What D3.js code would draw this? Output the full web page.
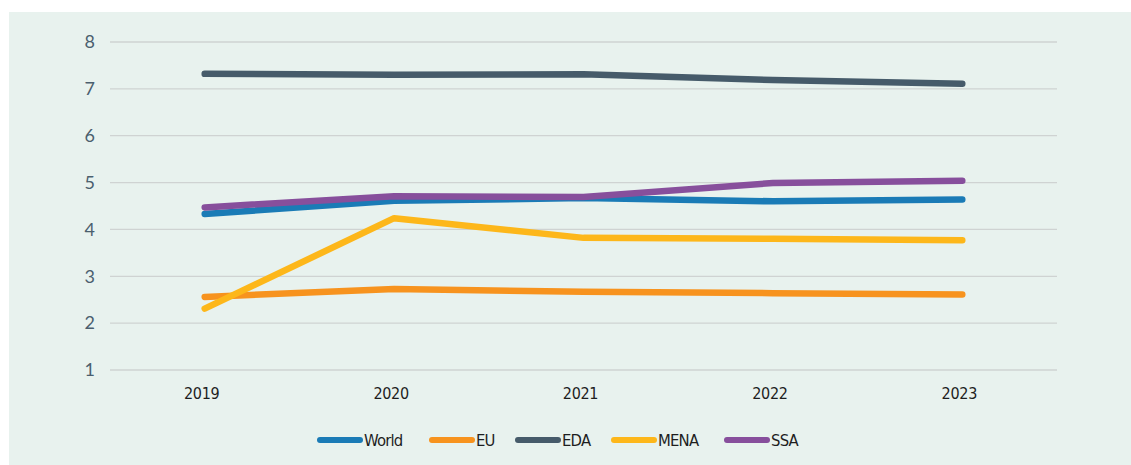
<!DOCTYPE html>
<html>
<head>
<meta charset="utf-8">
<script src="https://cdn.jsdelivr.net/npm/d3@7"></script>
<style>
  html, body { margin: 0; padding: 0; background: #ffffff; }
  svg { display: block; }
</style>
</head>
<body>
<svg id="chart" width="1131" height="465"></svg>
<script>
// Years along the x axis
const years = ["2019", "2020", "2021", "2022", "2023"];
// Y tick values
const yTicks = [1, 2, 3, 4, 5, 6, 7, 8];
// Series names
const seriesNames = ["World", "EU", "EDA", "MENA", "SSA"];
// Series values per year
const worldValues = [4.33, 4.61, 4.67, 4.60, 4.64];
const euValues    = [2.56, 2.73, 2.67, 2.64, 2.61];
const edaValues   = [7.32, 7.30, 7.31, 7.19, 7.11];
const menaValues  = [2.31, 4.24, 3.82, 3.80, 3.77];
const ssaValues   = [4.47, 4.71, 4.69, 4.99, 5.04];
const seriesColors = ["#1a7bb6", "#f7931e", "#465b6a", "#fdb71a", "#874f9c"];

const series = [worldValues, euValues, edaValues, menaValues, ssaValues].map((vals, i) => ({
  name: seriesNames[i],
  color: seriesColors[i],
  values: vals
}));

const svg = d3.select("#chart");
const W = 1131, H = 465;
const condensed = "'Liberation Sans Narrow', 'DejaVu Sans Condensed', sans-serif";

// panel background
svg.append("rect")
  .attr("x", 9).attr("y", 12)
  .attr("width", W - 9).attr("height", H - 12)
  .attr("fill", "#e8f2ee");

const plotLeft = 110, plotRight = 1057, plotTop = 42, plotBottom = 370;

const x = d3.scaleBand().domain(years).range([plotLeft, plotRight]);
const y = d3.scaleLinear().domain([1, 8]).range([plotBottom, plotTop]);

// horizontal gridlines
svg.append("g")
  .selectAll("line")
  .data(yTicks)
  .join("line")
  .attr("x1", plotLeft).attr("x2", plotRight)
  .attr("y1", d => y(d)).attr("y2", d => y(d))
  .attr("stroke", "#cfd3d2")
  .attr("stroke-width", 1.3);

// y axis labels
const yAxis = d3.axisLeft(y).tickValues(yTicks).tickFormat(d3.format("d")).tickSize(0).tickPadding(0);
const gy = svg.append("g").attr("transform", `translate(${plotLeft - 15},0)`).call(yAxis);
gy.select(".domain").remove();
gy.selectAll("text")
  .attr("fill", "#4b5f6e")
  .attr("font-family", "Lato, 'Open Sans', sans-serif")
  .attr("font-size", 18);

// x axis labels
const xAxis = d3.axisBottom(x).tickSize(0).tickPadding(0);
const gx = svg.append("g").attr("transform", `translate(0,${plotBottom + 18})`).call(xAxis);
gx.select(".domain").remove();
gx.selectAll("text")
  .attr("fill", "#1e1e1e")
  .attr("font-family", condensed)
  .attr("font-size", 16)
  .attr("letter-spacing", -0.3)
  .attr("transform", "translate(-3,0)");

// lines
const line = d3.line()
  .x((d, i) => x(years[i]) + x.bandwidth() / 2)
  .y(d => y(d));

svg.append("g")
  .selectAll("path")
  .data(series)
  .join("path")
  .attr("d", d => line(d.values))
  .attr("fill", "none")
  .attr("stroke", d => d.color)
  .attr("stroke-width", 6.5)
  .attr("stroke-linecap", "round")
  .attr("stroke-linejoin", "round");

// legend
const legendX = [317, 429, 515, 611, 724];
const legendY = 440;
const lg = svg.append("g")
  .selectAll("g")
  .data(series)
  .join("g")
  .attr("transform", (d, i) => `translate(${legendX[i]},${legendY})`);
lg.append("line")
  .attr("x1", 3).attr("x2", 43)
  .attr("y1", 0).attr("y2", 0)
  .attr("stroke", d => d.color)
  .attr("stroke-width", 6)
  .attr("stroke-linecap", "round");
lg.append("text")
  .attr("x", 47)
  .attr("y", 0)
  .attr("dy", "0.36em")
  .attr("fill", "#1e1e1e")
  .attr("font-family", condensed)
  .attr("font-size", 16.5)
  .attr("letter-spacing", -0.8)
  .text(d => d.name);
</script>
</body>
</html>
